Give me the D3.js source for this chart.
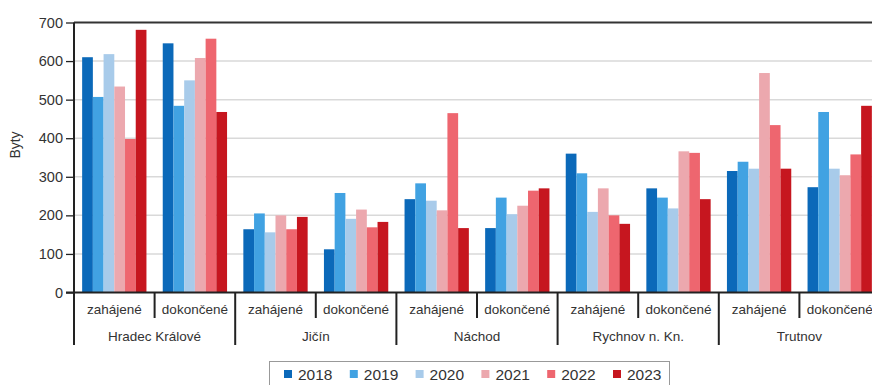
<!DOCTYPE html>
<html>
<head>
<meta charset="utf-8">
<script src="https://cdn.jsdelivr.net/npm/d3@7"></script>
<style>
  html, body { margin: 0; padding: 0; background: #fff; }
  svg { display: block; overflow: hidden; font-family: "Liberation Sans", Arial, sans-serif; }
</style>
</head>
<body>
<svg id="chart" width="872" height="385"></svg>
<script>
const districts = ['Hradec Králové', 'Jičín', 'Náchod', 'Rychnov n. Kn.', 'Trutnov'];
const kinds = ['zahájené', 'dokončené'];
const years = ['2018', '2019', '2020', '2021', '2022', '2023'];
const colors = ['#0b69b9', '#41a2e2', '#a8cbea', '#eca8ae', '#ee666f', '#c6161f'];
const yTicks = [0, 100, 200, 300, 400, 500, 600, 700];

// one row per district+kind, values in year order
const hkZah = [610, 507, 618, 534, 398, 681];
const hkDok = [646, 484, 550, 608, 658, 468];
const jcZah = [164, 205, 156, 200, 164, 196];
const jcDok = [112, 258, 191, 215, 169, 183];
const naZah = [242, 283, 238, 213, 465, 167];
const naDok = [167, 246, 203, 225, 264, 270];
const rkZah = [360, 309, 209, 270, 200, 178];
const rkDok = [270, 246, 218, 366, 362, 242];
const trZah = [315, 339, 321, 569, 434, 321];
const trDok = [273, 468, 321, 304, 358, 484];

const rows = [hkZah, hkDok, jcZah, jcDok, naZah, naDok, rkZah, rkDok, trZah, trDok];
const cells = rows.map((vals, i) => ({
  id: i,
  district: districts[Math.floor(i / 2)],
  kind: kinds[i % 2],
  values: vals
}));

const svg = d3.select('#chart');
const mLeft = 74, mRight = 880, mTop = 22.5, mBottom = 292.5;

const x0 = d3.scaleBand().domain(cells.map(d => d.id)).range([mLeft, mRight]).padding(0);
const x1 = d3.scaleBand().domain(years).range([0, x0.bandwidth()]).paddingInner(0).paddingOuter(0.76);
const y = d3.scaleLinear().domain([0, 700]).range([mBottom, mTop]);
const color = d3.scaleOrdinal(years, colors);

// grid
svg.append('g')
  .selectAll('line')
  .data(yTicks.filter(t => t > 0 && t < 700))
  .join('line')
    .attr('x1', mLeft).attr('x2', mRight)
    .attr('y1', d => y(d)).attr('y2', d => y(d))
    .attr('stroke', '#d9d9d9').attr('stroke-width', 1.5);

// bars
const grp = svg.append('g')
  .selectAll('g')
  .data(cells)
  .join('g')
    .attr('transform', d => `translate(${x0(d.id)},0)`);

grp.selectAll('rect')
  .data(d => d.values.map((v, i) => ({ year: years[i], value: v })))
  .join('rect')
    .attr('x', d => x1(d.year))
    .attr('width', x1.bandwidth())
    .attr('y', d => y(d.value))
    .attr('height', d => y(0) - y(d.value))
    .attr('fill', d => color(d.year));

// top border
svg.append('line')
  .attr('x1', mLeft).attr('x2', mRight)
  .attr('y1', y(700)).attr('y2', y(700))
  .attr('stroke', '#333').attr('stroke-width', 2);

// y axis
const yAxis = svg.append('g')
  .attr('transform', `translate(${mLeft},0)`)
  .call(d3.axisLeft(y).tickValues(yTicks).tickSize(8).tickPadding(3));
yAxis.select('.domain').remove();
yAxis.selectAll('line').attr('stroke', '#222').attr('stroke-width', 1.3);
yAxis.selectAll('text').attr('font-size', 14.5).attr('fill', '#333');

svg.append('line')
  .attr('x1', mLeft).attr('x2', mLeft)
  .attr('y1', mTop).attr('y2', 345)
  .attr('stroke', '#222').attr('stroke-width', 2);

svg.append('line')
  .attr('x1', mLeft - 8).attr('x2', mRight)
  .attr('y1', mBottom).attr('y2', mBottom)
  .attr('stroke', '#222').attr('stroke-width', 2);

svg.append('text')
  .attr('transform', 'translate(20,145) rotate(-90)')
  .attr('text-anchor', 'middle')
  .attr('font-size', 14)
  .attr('fill', '#333')
  .text('Byty');

// category separators and labels
const sep = svg.append('g');
cells.forEach(d => {
  if (d.id === 0) return;
  const long = d.id % 2 === 0;
  sep.append('line')
    .attr('x1', x0(d.id)).attr('x2', x0(d.id))
    .attr('y1', mBottom).attr('y2', long ? 345 : 318)
    .attr('stroke', '#222').attr('stroke-width', 2);
});

svg.append('g')
  .selectAll('text')
  .data(cells)
  .join('text')
    .attr('x', d => x0(d.id) + x0.bandwidth() / 2)
    .attr('y', 314)
    .attr('text-anchor', 'middle')
    .attr('font-size', 13.5)
    .attr('fill', '#333')
    .text(d => d.kind);

svg.append('g')
  .selectAll('text')
  .data(districts)
  .join('text')
    .attr('x', (d, i) => x0(i * 2) + x0.bandwidth())
    .attr('y', 341)
    .attr('text-anchor', 'middle')
    .attr('font-size', 13.5)
    .attr('fill', '#333')
    .text(d => d);

// legend
const leg = svg.append('g');
leg.append('rect')
  .attr('x', 269.5).attr('y', 361.5)
  .attr('width', 400).attr('height', 30)
  .attr('fill', '#fff').attr('stroke', '#999').attr('stroke-width', 1);

const item = leg.selectAll('g')
  .data(years)
  .join('g')
    .attr('transform', (d, i) => `translate(${284 + i * 65.8},0)`);
item.append('rect')
  .attr('x', 0).attr('y', 370)
  .attr('width', 8).attr('height', 8)
  .attr('fill', d => color(d));
item.append('text')
  .attr('x', 14).attr('y', 379.5)
  .attr('font-size', 15.5)
  .attr('fill', '#333')
  .text(d => d);
</script>
</body>
</html>
